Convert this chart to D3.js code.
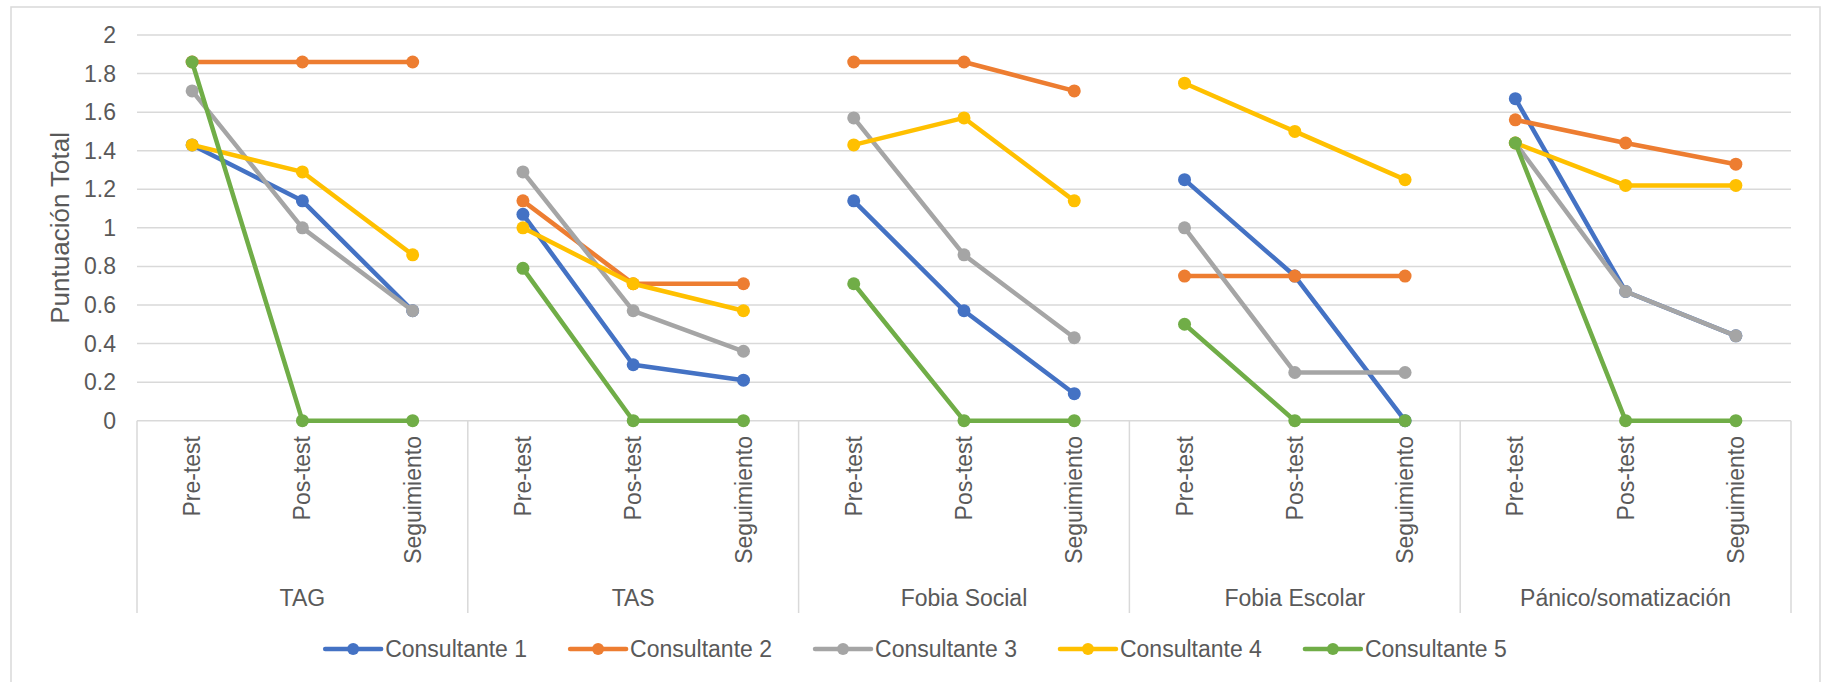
<!DOCTYPE html>
<html>
<head>
<meta charset="utf-8">
<script src="https://cdn.jsdelivr.net/npm/d3@7"></script>
<style>
  body { margin: 0; background: #fff; }
  svg { display: block; font-family: "Liberation Sans", Arial, sans-serif; }
</style>
</head>
<body>
<svg id="chart"></svg>
<script>
const groups = ["TAG", "TAS", "Fobia Social", "Fobia Escolar", "Pánico/somatización"];
const phases = ["Pre-test", "Pos-test", "Seguimiento"];
const seriesNames = ["Consultante 1", "Consultante 2", "Consultante 3", "Consultante 4", "Consultante 5"];
const seriesColors = ["#4472C4", "#ED7D31", "#A5A5A5", "#FFC000", "#70AD47"];

// values in order: group x phase
const consultante1 = [1.43, 1.14, 0.57, 1.07, 0.29, 0.21, 1.14, 0.57, 0.14, 1.25, 0.75, 0, 1.67, 0.67, 0.44];
const consultante2 = [1.86, 1.86, 1.86, 1.14, 0.71, 0.71, 1.86, 1.86, 1.71, 0.75, 0.75, 0.75, 1.56, 1.44, 1.33];
const consultante3 = [1.71, 1.00, 0.57, 1.29, 0.57, 0.36, 1.57, 0.86, 0.43, 1.00, 0.25, 0.25, 1.44, 0.67, 0.44];
const consultante4 = [1.43, 1.29, 0.86, 1.00, 0.71, 0.57, 1.43, 1.57, 1.14, 1.75, 1.50, 1.25, 1.44, 1.22, 1.22];
const consultante5 = [1.86, 0, 0, 0.79, 0, 0, 0.71, 0, 0, 0.50, 0, 0, 1.44, 0, 0];

const yTicks = [0, 0.2, 0.4, 0.6, 0.8, 1, 1.2, 1.4, 1.6, 1.8, 2];

function draw() {
  const W = 1825, H = 682;
  const left = 137, right = 1791, top = 35, bottom = 420.7;
  const textColor = "#595959";
  const gridColor = "#d9d9d9";

  const svg = d3.select("#chart").attr("width", W).attr("height", H);
  svg.selectAll("*").remove();

  // chart area border
  svg.append("rect")
    .attr("x", 11).attr("y", 7)
    .attr("width", 1809).attr("height", 700)
    .attr("fill", "#fff")
    .attr("stroke", gridColor).attr("stroke-width", 1.5);

  const keys = [];
  groups.forEach(g => phases.forEach(p => keys.push(g + "|" + p)));

  const x = d3.scaleBand().domain(keys).range([left, right]).padding(0);
  const xg = d3.scaleBand().domain(groups).range([left, right]).padding(0);
  const y = d3.scaleLinear().domain([0, 2]).range([bottom, top]);
  const cx = i => x(keys[i]) + x.bandwidth() / 2;

  // gridlines
  svg.append("g")
    .selectAll("line")
    .data(yTicks.filter(d => d > 0))
    .join("line")
    .attr("x1", left).attr("x2", right)
    .attr("y1", d => y(d)).attr("y2", d => y(d))
    .attr("stroke", gridColor).attr("stroke-width", 1.5);

  // y axis labels
  const fmt = d3.format(".1~f");
  svg.append("g")
    .selectAll("text")
    .data(yTicks)
    .join("text")
    .attr("x", 116)
    .attr("y", d => y(d))
    .attr("dy", "0.35em")
    .attr("text-anchor", "end")
    .attr("fill", textColor)
    .style("font-size", "23px")
    .text(d => fmt(d));

  svg.append("text")
    .attr("transform", `translate(60, ${(top + bottom) / 2}) rotate(-90)`)
    .attr("text-anchor", "middle")
    .attr("dy", "0.35em")
    .attr("fill", textColor)
    .style("font-size", "26px")
    .text("Puntuación Total");

  // x axis: base line + group separators
  const axis = svg.append("g");
  axis.append("line")
    .attr("x1", left).attr("x2", right)
    .attr("y1", bottom).attr("y2", bottom)
    .attr("stroke", gridColor).attr("stroke-width", 1.5);

  const seps = groups.map(g => xg(g)).concat([right]);
  axis.selectAll("line.sep")
    .data(seps)
    .join("line")
    .attr("class", "sep")
    .attr("x1", d => d).attr("x2", d => d)
    .attr("y1", bottom).attr("y2", 613)
    .attr("stroke", gridColor).attr("stroke-width", 1.5);

  axis.selectAll("text.phase")
    .data(keys)
    .join("text")
    .attr("class", "phase")
    .attr("transform", d => `translate(${x(d) + x.bandwidth() / 2}, 436) rotate(-90)`)
    .attr("text-anchor", "end")
    .attr("dy", "0.35em")
    .attr("fill", textColor)
    .style("font-size", "23px")
    .text(d => d.split("|")[1]);

  axis.selectAll("text.group")
    .data(groups)
    .join("text")
    .attr("class", "group")
    .attr("x", d => xg(d) + xg.bandwidth() / 2)
    .attr("y", 606)
    .attr("text-anchor", "middle")
    .attr("fill", textColor)
    .style("font-size", "23px")
    .text(d => d);

  // series: one segment per group, Excel style (lines break between groups)
  const allSeries = [consultante1, consultante2, consultante3, consultante4, consultante5];
  const line = d3.line()
    .x(d => cx(d.i))
    .y(d => y(d.v));

  allSeries.forEach((vals, s) => {
    const pts = vals.map((v, i) => ({ v, i }));
    const g = svg.append("g");
    groups.forEach((grp, gi) => {
      g.append("path")
        .attr("d", line(pts.slice(gi * 3, gi * 3 + 3)))
        .attr("fill", "none")
        .attr("stroke", seriesColors[s])
        .attr("stroke-width", 4.5)
        .attr("stroke-linejoin", "round");
    });
    g.selectAll("circle")
      .data(pts)
      .join("circle")
      .attr("cx", d => cx(d.i))
      .attr("cy", d => y(d.v))
      .attr("r", 6.5)
      .attr("fill", seriesColors[s]);
  });

  // legend
  const legend = svg.append("g");
  const items = legend.selectAll("g")
    .data(seriesNames)
    .join("g");

  items.append("line")
    .attr("x1", 0).attr("x2", 56)
    .attr("y1", 0).attr("y2", 0)
    .attr("stroke", (d, i) => seriesColors[i])
    .attr("stroke-width", 4.5)
    .attr("stroke-linecap", "round");
  items.append("circle")
    .attr("cx", 28).attr("cy", 0).attr("r", 6)
    .attr("fill", (d, i) => seriesColors[i]);
  items.append("text")
    .attr("x", 60)
    .attr("dy", "0.35em")
    .attr("fill", textColor)
    .style("font-size", "23px")
    .text(d => d);

  let cursor = 0;
  items.each(function () {
    const w = 60 + d3.select(this).select("text").node().getComputedTextLength();
    d3.select(this).attr("transform", `translate(${cursor}, 0)`);
    cursor += w + 43;
  });
  const legendW = cursor - 43;
  legend.attr("transform", `translate(${916 - legendW / 2}, 649)`);
}

draw();
</script>
</body>
</html>
